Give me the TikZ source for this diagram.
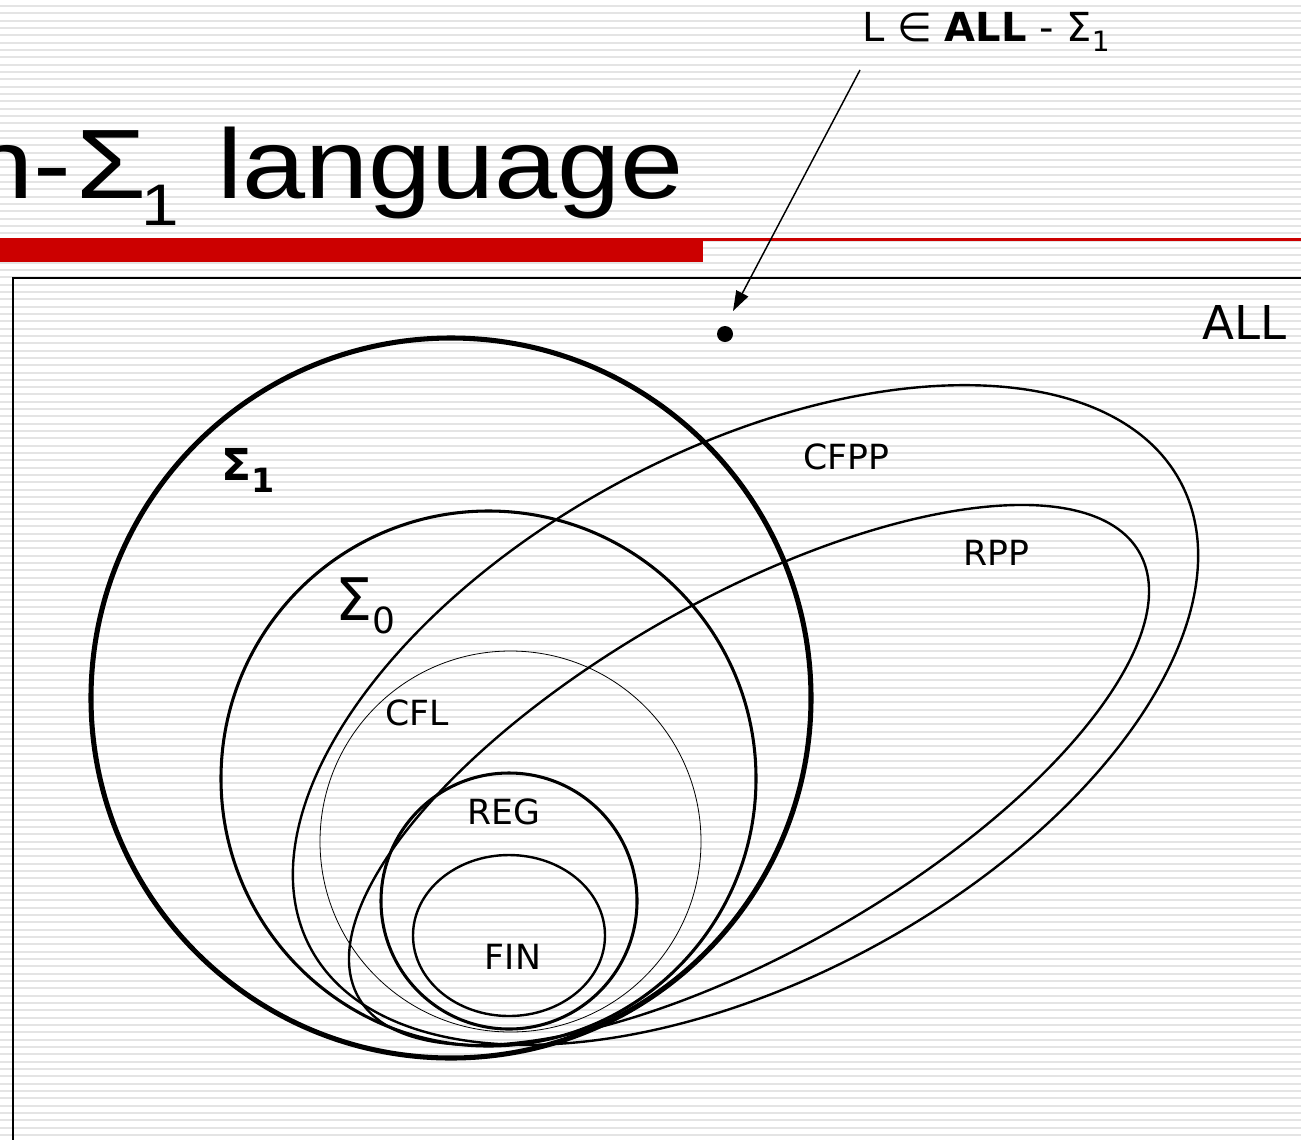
\documentclass[tikz,border=0pt]{standalone}
\usepackage{fontspec}
\setmainfont{DejaVu Sans}
\newfontfamily\titlefont[FakeStretch=1.15]{Liberation Sans}
\usetikzlibrary{arrows.meta}
\definecolor{barred}{HTML}{CC0000}
\definecolor{stripegray}{HTML}{E4E4E4}
\tikzset{
  stripe/.style={stripegray, line width=1.5pt},
  lab/.style={font=\fontsize{26}{30}\selectfont, inner sep=0pt},
  ttl/.style={inner sep=0pt, font=\titlefont\fontsize{74}{80}\selectfont},
  thickset/.style={line width=3.8pt},
  midset/.style={line width=2.3pt},
  thinset/.style={line width=1.8pt},
  hairset/.style={line width=0.6pt},
}
\begin{document}
\begin{tikzpicture}[x=0.75pt,y=-0.75pt]
\useasboundingbox (0,0) rectangle (1301,1139);
\clip (0,0) rectangle (1301,1139);
\fill[white] (0,0) rectangle (1301,1139);
\foreach \i in {0,...,156} { \draw[stripe] (0,{6+\i*7.33}) -- (1301,{6+\i*7.33}); }
% title
\node[ttl, anchor=base east] (t1) at (72,198) {n-};
\node[ttl, anchor=base west] (t2) at (76,198) {Σ};
\node[ttl, anchor=base west, font=\titlefont\fontsize{44}{48}\selectfont] (t3) at (141,225) {1};
\node[ttl, anchor=base west] (t4) at (217,198) {language};
% red bars
\fill[barred] (0,238) rectangle (703,262);
\fill[barred] (703,237.5) rectangle (1301,240.5);
% frame
\draw[line width=1.6pt] (1320,278) -- (13,278) -- (13,1160);
% sets
\draw[thickset] (451,698) circle[radius=360];
\draw[midset] (488.5,778.5) circle[radius=267.5];
\draw[thinset, rotate around={28.2:(745.5,715)}] (745.5,715) ellipse[x radius=493.5, y radius=264.7];
\draw[thinset, rotate around={29.7:(749,775)}] (749,775) ellipse[x radius=449.4, y radius=175.9];
\draw[hairset] (510.5,841.5) circle[radius=190.5];
\draw[midset] (509,901) circle[radius=128];
\draw[thinset] (509,935.5) ellipse[x radius=96, y radius=80.5];
% labels
\node[lab] (cfpp) at (846,457) {CFPP};
\node[lab] (rpp) at (996,553) {RPP};
\node[lab] (cfl) at (417,713) {CFL};
\node[lab] (reg) at (504,812) {REG};
\node[lab] (fin) at (513,957) {FIN};
\node[lab, font=\fontsize{35}{40}\selectfont, anchor=base east] (all) at (1287,339) {ALL};
\node[inner sep=0pt, anchor=base west, font=\fontsize{33}{36}\selectfont\bfseries] (s1) at (221,480)
  {Σ\raisebox{-9pt}{\fontsize{25}{28}\selectfont 1}};
\node[inner sep=0pt, anchor=base west, font=\fontsize{44}{48}\selectfont] (s0) at (335,620)
  {Σ\raisebox{-10pt}{\fontsize{27}{30}\selectfont 0}};
% point and arrow
\node[inner sep=0pt, anchor=base, font=\fontsize{30}{34}\selectfont] (lab) at (986,41)
  {L ∈ \textbf{ALL} - Σ\raisebox{-8pt}{\fontsize{21}{24}\selectfont 1}};
\node[circle, fill=black, inner sep=0pt, minimum size=12pt] (pt) at (725,334) {};
\coordinate (tail) at (860,70);
\coordinate (tip) at (733,311);
\draw[line width=1.1pt, -{Triangle[length=15pt,width=10pt]}] (tail) -- (tip);
\end{tikzpicture}
\end{document}
